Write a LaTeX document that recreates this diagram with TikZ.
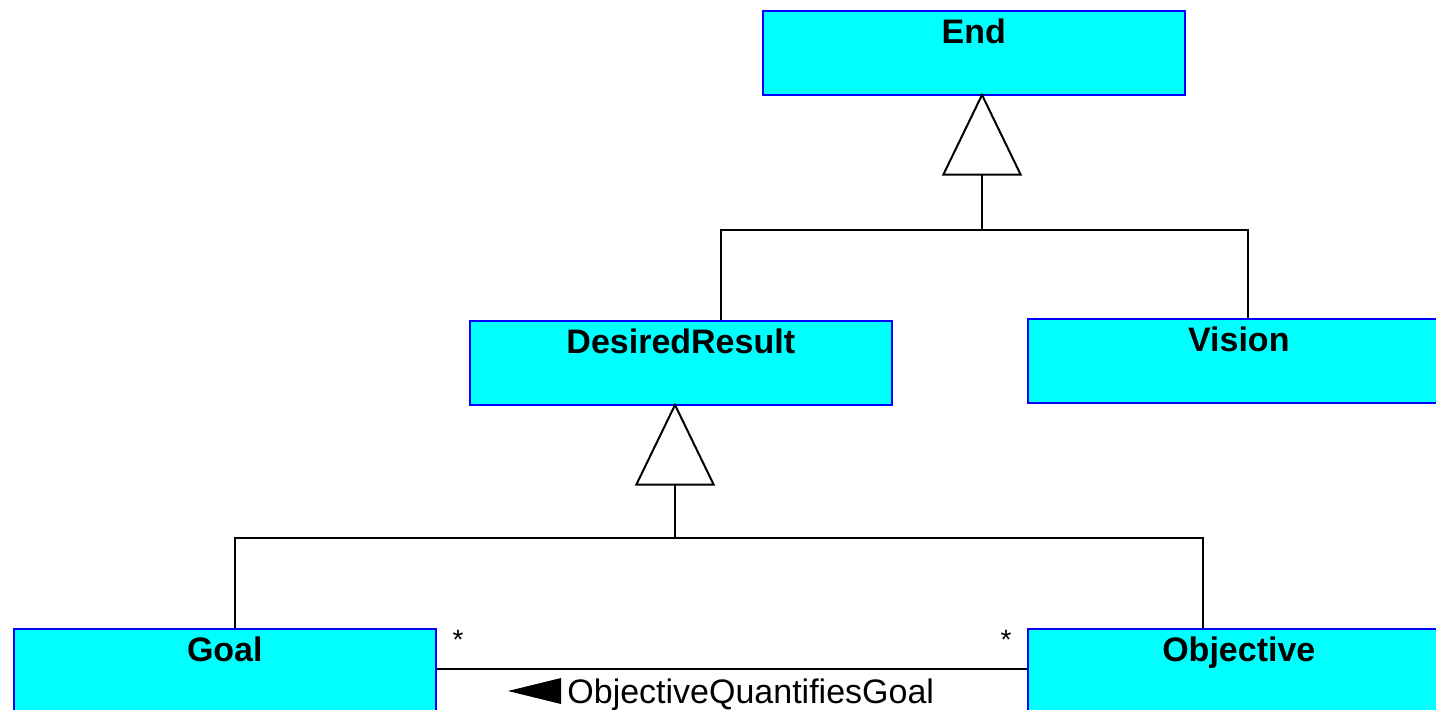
\documentclass[tikz,border=0pt]{standalone}
\usepackage{fontspec}
\setmainfont{Liberation Sans}
\usetikzlibrary{arrows.meta,positioning}

\definecolor{classfill}{RGB}{0,255,255}
\definecolor{classline}{RGB}{0,0,255}

\tikzset{
  classbox/.style={draw=classline, fill=classfill, line width=0.8pt, anchor=north west,
    minimum width=211pt, minimum height=42pt, inner xsep=0pt, inner ysep=0pt,
    text height=16.5pt, text depth=25.5pt,
    font=\bfseries\fontsize{17}{20}\selectfont},
  generalize/.style={-{Triangle[open,length=41.5pt,width=40pt]}, shorten >=-1.5pt, line width=1pt},
  assoc/.style={line width=1pt},
  mult/.style={anchor=base, inner sep=0pt, font=\fontsize{14}{16}\selectfont},
  rolename/.style={anchor=base west, inner sep=0pt, font=\fontsize{17}{20}\selectfont}
}

\begin{document}
\begin{tikzpicture}[x=0.5pt,y=-0.5pt]
\useasboundingbox (0,0) rectangle (1436,709);
\clip (0,0) rectangle (1436,709);

% classes
\node[classbox] (end) at (762,10) {End};
\node[classbox] (dr) at (469,320) {DesiredResult};
\node[classbox] (vis) at (1027,318) {Vision};
\node[classbox] (goal) at (13,628) {Goal};
\node[classbox] (obj) at (1027,628) {Objective};

% generalizations
\coordinate (endjoin) at (982,230);
\coordinate (drjoin) at (675,538);

\draw[generalize] (endjoin) -- (endjoin |- end.south);
\draw[assoc] ([xshift=20pt]dr.north) |- (endjoin) -| ([xshift=4.5pt]vis.north);

\draw[generalize] (drjoin) -- (drjoin |- dr.south);
\draw[assoc] ([xshift=5pt]goal.north) |- (drjoin) -| ([xshift=-18pt]obj.north);

% association
\draw[assoc] ([yshift=1pt]goal.east) -- ([yshift=1pt]obj.west);
\node[mult] (goalmult) at (458,649) {*};
\node[mult] (objmult) at (1006,649) {*};
\node[rolename] (qlabel) at (567,703) {ObjectiveQuantifiesGoal};
\fill ([xshift=-3pt,yshift=-0.5pt]qlabel.base west) -- ++(0,-26) -- ++(-53,13) -- cycle;
\end{tikzpicture}
\end{document}
